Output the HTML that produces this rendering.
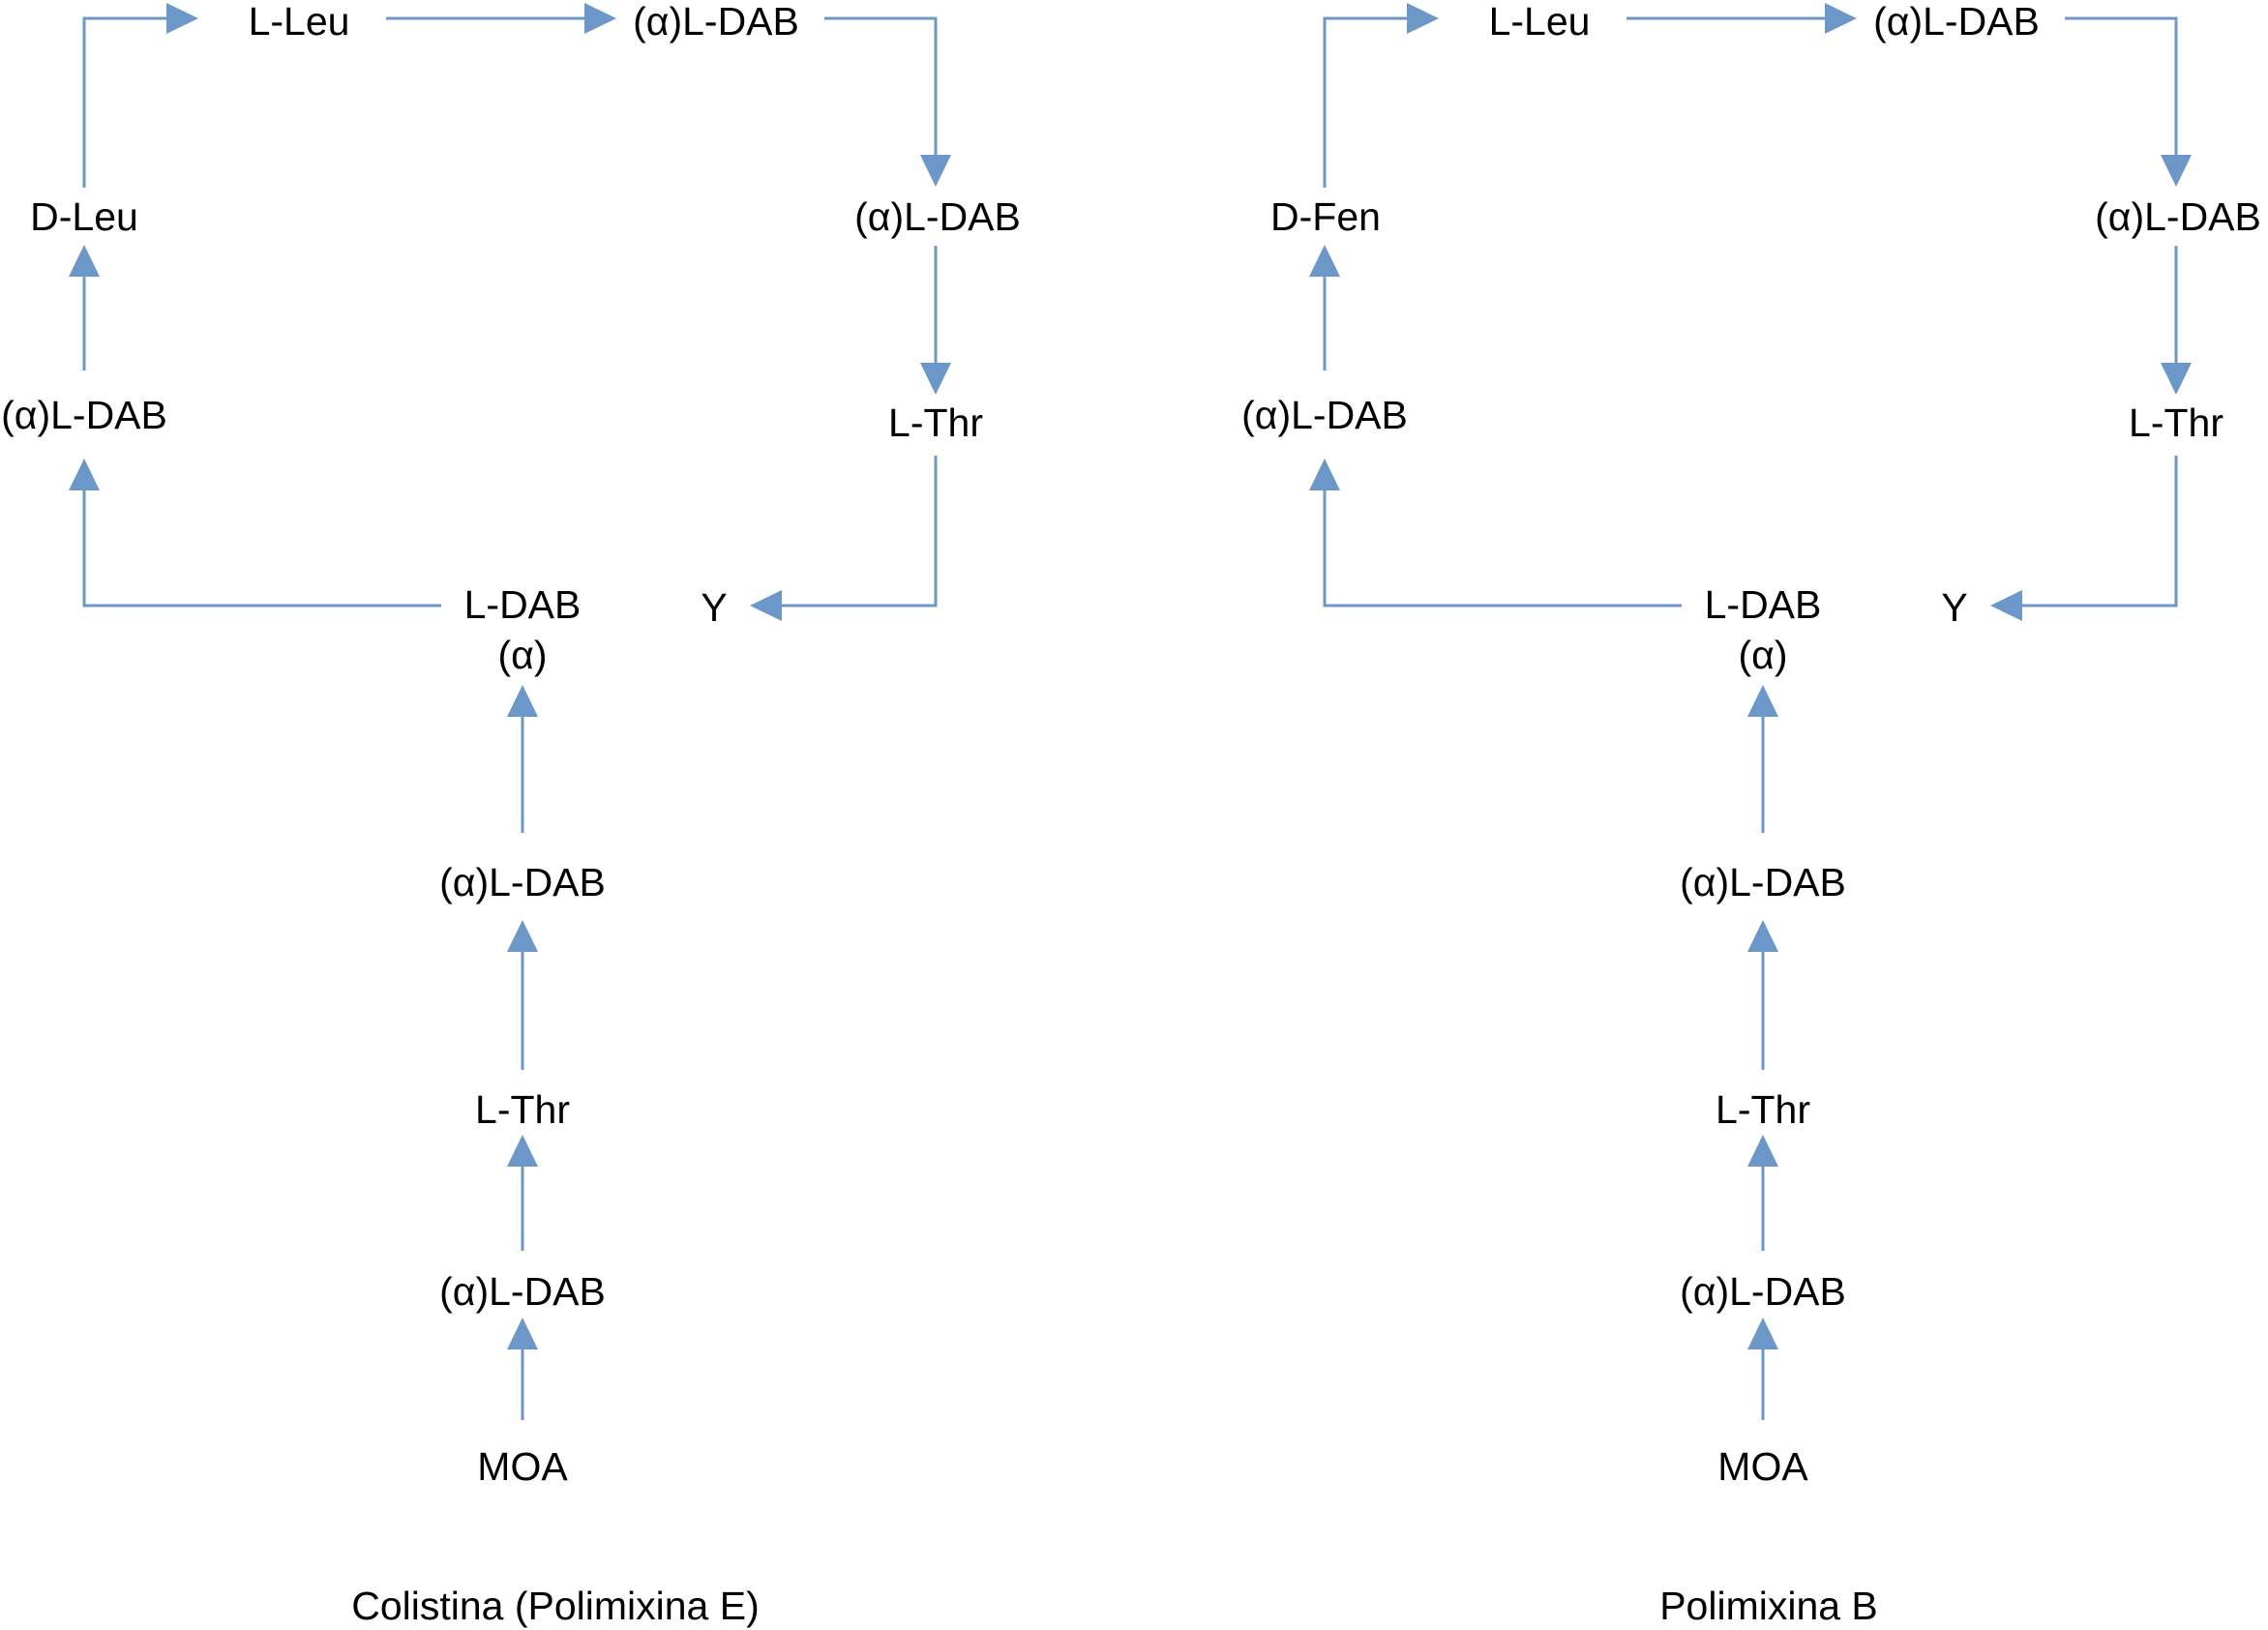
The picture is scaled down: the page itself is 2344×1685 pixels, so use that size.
<!DOCTYPE html>
<html><head><meta charset="utf-8"><style>html,body{margin:0;padding:0;background:#fff}svg{display:block}</style></head>
<body>
<svg width="2344" height="1685" viewBox="0 0 2344 1685" xmlns="http://www.w3.org/2000/svg">
<defs>
<g id="d">
  <g fill="none" stroke="#6b98c9" stroke-width="3">
    <polyline points="87,194 87,19 180,19"/>
    <line x1="399" y1="19" x2="610" y2="19"/>
    <polyline points="852,19 967,19 967,166"/>
    <line x1="967" y1="254" x2="967" y2="382"/>
    <polyline points="967,471 967,626 802,626"/>
    <polyline points="456,626 87,626 87,500"/>
    <line x1="87" y1="383" x2="87" y2="279"/>
    <line x1="540" y1="861" x2="540" y2="734"/>
    <line x1="540" y1="1106" x2="540" y2="977"/>
    <line x1="540" y1="1293" x2="540" y2="1199"/>
    <line x1="540" y1="1468" x2="540" y2="1388"/>
  </g>
  <g fill="#6b98c9">
    <polygon points="205,19 172,3 172,35"/>
    <polygon points="637,19 604,3 604,35"/>
    <polygon points="967,193 951,160 983,160"/>
    <polygon points="967,408 951,375 983,375"/>
    <polygon points="775,626 808,610 808,642"/>
    <polygon points="87,474 71,507 103,507"/>
    <polygon points="87,253 71,286 103,286"/>
    <polygon points="540,708 524,741 556,741"/>
    <polygon points="540,951 524,984 556,984"/>
    <polygon points="540,1173 524,1206 556,1206"/>
    <polygon points="540,1362 524,1395 556,1395"/>
  </g>
  <g font-family="Liberation Sans, sans-serif" font-size="41" fill="#000" text-anchor="middle" dominant-baseline="central">
    <text x="309" y="22">L-Leu</text>
    <text x="740" y="22">(α)L-DAB</text>
    <text x="969" y="224">(α)L-DAB</text>
    <text x="967" y="437">L-Thr</text>
    <text x="738" y="628">Y</text>
    <text x="540" y="625">L-DAB</text>
    <text x="540" y="677">(α)</text>
    <text x="87" y="429">(α)L-DAB</text>
    <text x="540" y="912">(α)L-DAB</text>
    <text x="540" y="1147">L-Thr</text>
    <text x="540" y="1335">(α)L-DAB</text>
    <text x="540" y="1516">MOA</text>
  </g>
</g>
</defs>
<use href="#d"/>
<use href="#d" transform="translate(1282,0)"/>
<g font-family="Liberation Sans, sans-serif" font-size="41" fill="#000" text-anchor="middle" dominant-baseline="central">
  <text x="87" y="224">D-Leu</text>
  <text x="1370" y="224">D-Fen</text>
  <text x="574" y="1660">Colistina (Polimixina E)</text>
  <text x="1828" y="1660">Polimixina B</text>
</g>
</svg>
</body></html>
